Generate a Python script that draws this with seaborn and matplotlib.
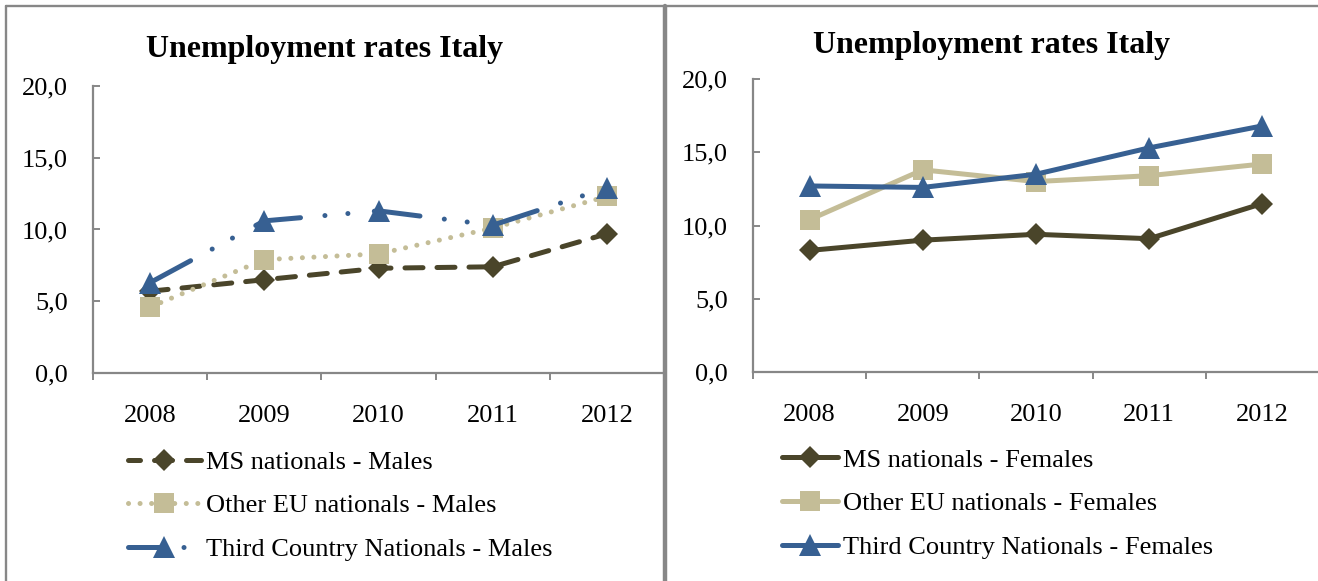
import matplotlib
matplotlib.use("Agg")
import matplotlib.pyplot as plt
from matplotlib.lines import Line2D
from matplotlib.ticker import FuncFormatter, FixedLocator
import seaborn as sns
import pandas as pd

# Unemployment rates in Italy by citizenship group, 2008-2012 (%)
years = [2008, 2009, 2010, 2011, 2012]

ms_males = [5.7, 6.5, 7.3, 7.4, 9.7]
eu_males = [4.6, 7.9, 8.3, 10.1, 12.3]
tcn_males = [6.3, 10.6, 11.3, 10.3, 12.9]

ms_females = [8.3, 9.0, 9.4, 9.1, 11.5]
eu_females = [10.4, 13.8, 13.0, 13.4, 14.2]
tcn_females = [12.7, 12.6, 13.5, 15.3, 16.8]

title = "Unemployment rates Italy"
y_ticks = [0, 5, 10, 15, 20]

C_MS = "#4A452A"
C_EU = "#C4BD97"
C_TCN = "#376092"
GRID_GRAY = "#878787"

# dash patterns in units of line width
DASH = (3.6, 2.8)
DOTS = (0.01, 2.3)
LONG_DASH_DOT_DOT = (9.2, 4.9, 0.01, 4.6, 0.01, 5.3)

sns.set_style("white")
plt.rcParams["font.family"] = ["Liberation Serif", "DejaVu Serif"]
plt.rcParams["text.color"] = "black"
plt.rcParams["xtick.labelcolor"] = "black"
plt.rcParams["ytick.labelcolor"] = "black"
plt.rcParams["lines.dash_capstyle"] = "round"
plt.rcParams["lines.solid_joinstyle"] = "round"
plt.rcParams["lines.dash_joinstyle"] = "round"

fig = plt.figure(figsize=(13.18, 5.81), dpi=100)
fig.patch.set_facecolor("white")

ax_m = fig.add_axes([0.0706, 0.3580, 0.4332, 0.4940])
ax_f = fig.add_axes([0.5713, 0.3597, 0.4294, 0.5043])

LW = 3.6


def draw_series(ax, values, label, color, marker, ms, ls):
    df = pd.DataFrame({"year": years, "rate": values})
    sns.lineplot(data=df, x="year", y="rate", ax=ax, color=color, label=label,
                 marker=marker, markersize=ms, markeredgewidth=0,
                 markerfacecolor=color, linewidth=LW, linestyle=ls)


# Males: dashed / dotted / long-dash-dot-dot
draw_series(ax_m, ms_males, "MS nationals - Males", C_MS, "D", 11.5, (0, DASH))
draw_series(ax_m, eu_males, "Other EU nationals - Males", C_EU, "s", 15.0, (0, DOTS))
draw_series(ax_m, tcn_males, "Third Country Nationals - Males", C_TCN, "^", 15.5,
            (0, LONG_DASH_DOT_DOT))

# Females: solid lines
draw_series(ax_f, ms_females, "MS nationals - Females", C_MS, "D", 11.5, "-")
draw_series(ax_f, eu_females, "Other EU nationals - Females", C_EU, "s", 15.0, "-")
draw_series(ax_f, tcn_females, "Third Country Nationals - Females", C_TCN, "^", 15.5, "-")

fmt = FuncFormatter(lambda v, p: f"{v:.1f}".replace(".", ","))
for ax in (ax_m, ax_f):
    ax.set_xlim(years[0] - 0.5, years[-1] + 0.5)
    ax.set_ylim(0, 20)
    ax.set_xlabel("")
    ax.set_ylabel("")
    ax.set_facecolor("white")
    for side in ("top", "right"):
        ax.spines[side].set_visible(False)
    for side in ("left", "bottom"):
        ax.spines[side].set_color(GRID_GRAY)
        ax.spines[side].set_linewidth(1.6)
    ax.yaxis.set_major_locator(FixedLocator(y_ticks))
    ax.yaxis.set_major_formatter(fmt)
    ax.tick_params(axis="y", direction="in", length=5, width=1.4,
                   color=GRID_GRAY, pad=18, labelsize=19, left=True,
                   labelcolor="black")
    bounds = [y - 0.5 for y in years] + [years[-1] + 0.5]
    ax.xaxis.set_major_locator(FixedLocator(bounds))
    ax.xaxis.set_major_formatter(FuncFormatter(lambda v, p: ""))
    ax.xaxis.set_minor_locator(FixedLocator(years))
    ax.xaxis.set_minor_formatter(FuncFormatter(lambda v, p: f"{int(round(v))}"))
    ax.tick_params(axis="x", which="major", direction="out", length=5, width=1.4,
                   color=GRID_GRAY, bottom=True)
    ax.tick_params(axis="x", which="minor", length=0, pad=23, labelsize=19,
                   bottom=True, labelcolor="black")
    ax.get_legend().remove()

leg_kw = dict(loc="upper left", bbox_transform=fig.transFigure, frameon=False,
              borderpad=0, borderaxespad=0, fontsize=19, labelspacing=0.76,
              handletextpad=0.19, numpoints=1, labelcolor="black")
h, l = ax_m.get_legend_handles_labels()
leg_m = ax_m.legend(h, l, bbox_to_anchor=(0.0971, 0.2250), handlelength=2.75,
                    **leg_kw)
h, l = ax_f.get_legend_handles_labels()
ax_f.legend(h, l, bbox_to_anchor=(0.5933, 0.2285), handlelength=2.12, **leg_kw)

# shift the phase of the dashed legend keys so a dot follows the marker
leg_lines = leg_m.get_lines()
leg_lines[0].set_linestyle((1.2, DASH))
leg_lines[2].set_linestyle((3.0, LONG_DASH_DOT_DOT))

fig.text(0.2466, 0.915, title, ha="center", va="center", fontsize=23,
         fontweight="bold", color="black")
fig.text(0.7527, 0.922, title, ha="center", va="center", fontsize=23,
         fontweight="bold", color="black")

# Panel frame: left edge, top edge and the divider between the two charts
fig.add_artist(Line2D([0.0046, 0.0046], [0, 0.9897], transform=fig.transFigure,
                      color=GRID_GRAY, linewidth=1.7))
fig.add_artist(Line2D([0.0046, 1.0], [0.9897, 0.9897], transform=fig.transFigure,
                      color=GRID_GRAY, linewidth=1.7))
fig.add_artist(Line2D([0.5046, 0.5046], [0, 0.9897], transform=fig.transFigure,
                      color=GRID_GRAY, linewidth=3.2))

fig.savefig("out.png", dpi=100, facecolor="white")
